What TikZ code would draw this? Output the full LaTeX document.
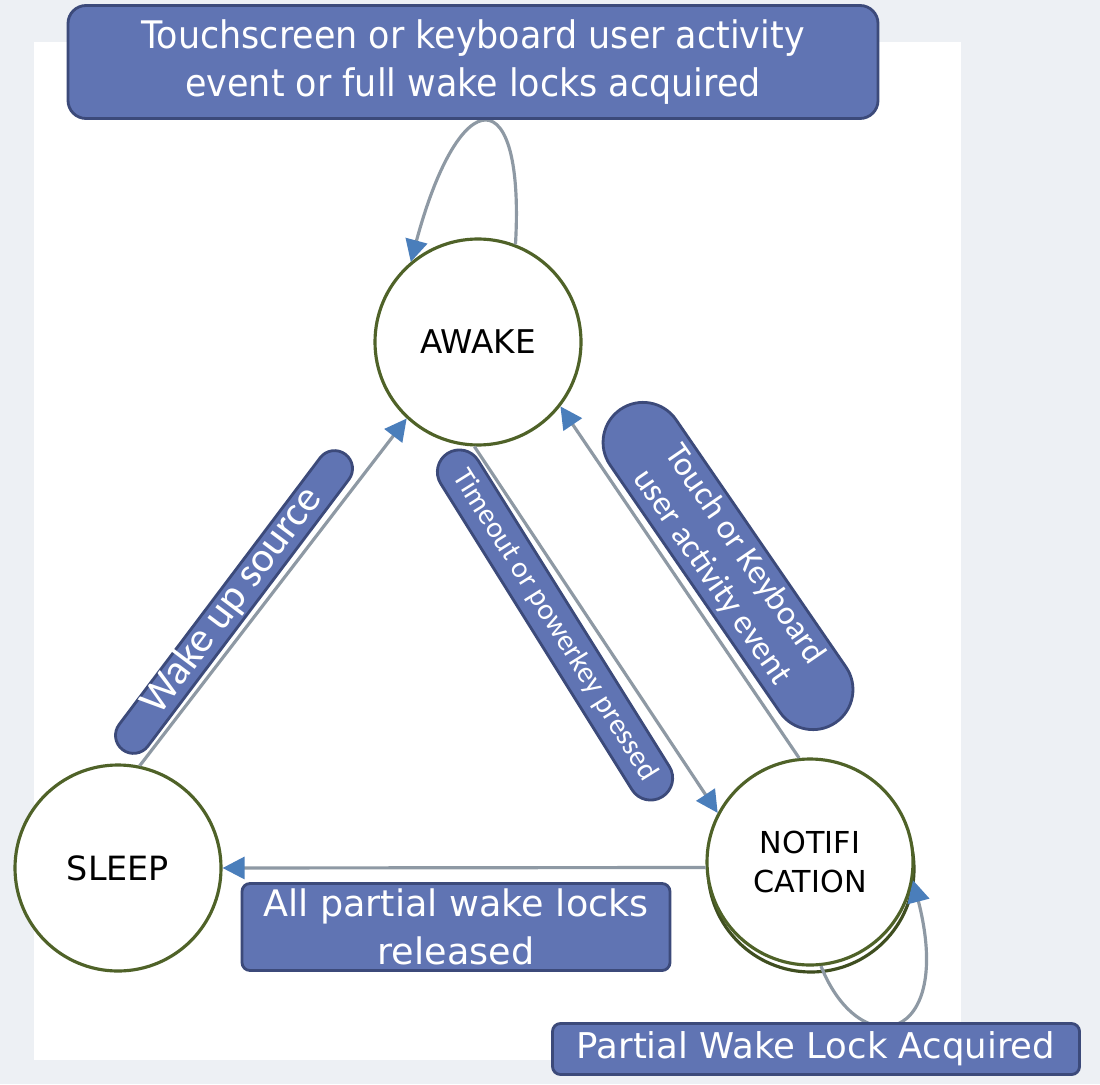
\documentclass[tikz,border=0pt]{standalone}
\usepackage{fontspec}
\setmainfont{DejaVu Sans}
\newfontfamily\calibri{Carlito}
\newfontfamily\narrowsans{DejaVu Sans}[FakeStretch=0.92]
\usetikzlibrary{arrows.meta}

\definecolor{boxblue}{HTML}{6074B3}
\definecolor{boxline}{HTML}{3C4A7A}
\definecolor{ringgreen}{HTML}{4F6228}
\definecolor{arrowblue}{HTML}{4A7EBB}
\definecolor{linegray}{HTML}{8E99A4}
\definecolor{bggray}{HTML}{EDF0F4}

\begin{document}
\begin{tikzpicture}[x=0.1mm,y=0.1mm,
  state/.style={circle,draw=ringgreen,line width=0.9pt,fill=white,minimum size=20.6mm,inner sep=0pt,align=center},
  tag/.style={draw=boxline,line width=0.8pt,fill=boxblue,text=white,inner sep=0pt,align=center},
  trans/.style={draw=linegray,line width=0.9pt,-{Triangle[length=2.2mm,width=2.2mm,color=arrowblue]}}]
   % Hintergrund
   \fill[bggray] (0,0) rectangle (1100,1084);
   \fill[white] (34,24) rectangle (961,1042);
   \useasboundingbox (0,0) rectangle (1100,1084);

   % Zustaende
   \draw[ringgreen!80!black,line width=0.9pt] (811,215) circle (103);
   \node[state,font=\fontsize{9.3pt}{11pt}\selectfont] (awake) at (478,742) {AWAKE};
   \node[state,font=\fontsize{9.5pt}{11pt}\selectfont] (sleep) at (118,216) {SLEEP};
   \node[state,font=\fontsize{8.6pt}{11pt}\selectfont] (notif) at (810,222) {NOTIFI\\CATION};

   % Uebergaenge
   \draw[trans] (sleep.78) -- (awake.227);
   \draw[trans] (awake.268) -- (notif.152);
   \draw[trans] (notif.96) -- (awake.322);
   \draw[trans] (notif.183) -- (sleep.0);
   \draw[trans] (awake.69) .. controls (525,1005) and (460,1005) .. (awake.130);
   \draw[trans] (notif.276) .. controls (860,20) and (955,40) .. (notif.350);

   % Beschriftungen
   \node[tag,rounded corners=1.8mm,minimum width=81mm,minimum height=11.3mm,font=\narrowsans\fontsize{10.8pt}{13.6pt}\selectfont] (fulltag) at (473,1022) {Touchscreen or keyboard user activity\\event or full wake locks acquired};
   \node[tag,rounded corners=0.8mm,minimum width=42.8mm,minimum height=8.7mm,font=\fontsize{10.4pt}{13.6pt}\selectfont] (releasetag) at (456,157) {All partial wake locks\\released};
   \node[tag,rounded corners=0.8mm,minimum width=52.7mm,minimum height=5.1mm,font=\fontsize{10.1pt}{12pt}\selectfont] (partialtag) at (816,35) {Partial Wake Lock Acquired};
   \node[tag,rounded corners=1.8mm,minimum width=37mm,minimum height=3.6mm,text height=2.4mm,text depth=0.6mm,rotate=53,font=\calibri\fontsize{12pt}{13pt}\selectfont] (wakeup) at (234,482) {Wake up source};
   \node[tag,rounded corners=2.2mm,minimum width=40.5mm,minimum height=4.4mm,rotate=-58,font=\calibri\fontsize{8.5pt}{10pt}\selectfont] (timeout) at (555,459) {Timeout or powerkey pressed};
   \node[tag,rounded corners=4mm,minimum width=38mm,minimum height=8mm,rotate=-55.5,font=\calibri\fontsize{9.7pt}{11.4pt}\selectfont] (touchtag) at (728,518) {Touch or Keyboard\\user activity event};
\end{tikzpicture}
\end{document}
